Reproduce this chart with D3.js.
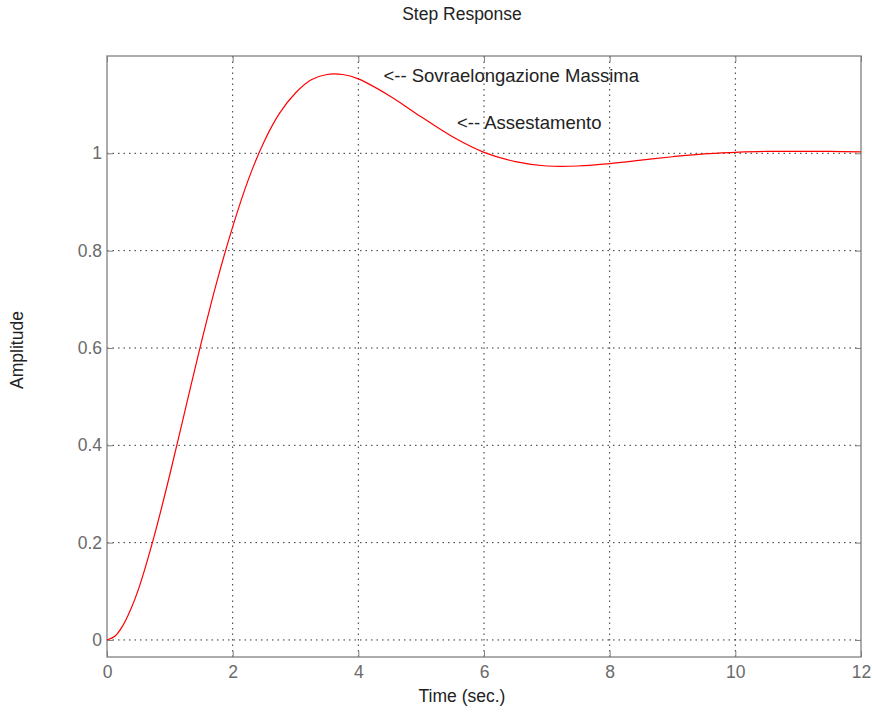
<!DOCTYPE html>
<html>
<head>
<meta charset="utf-8">
<script src="https://d3js.org/d3.v7.min.js"></script>
<style>
  html, body { margin: 0; padding: 0; background: #fff; }
  svg { display: block; font-family: "Liberation Sans", Arial, sans-serif; }
</style>
</head>
<body>
<svg id="chart" width="872" height="718"></svg>
<script>
// ---- data ----
const timeValues = [0, 0.125, 0.25, 0.375, 0.5, 0.75, 1, 1.25, 1.5, 1.75, 2, 2.25, 2.5, 2.75, 3, 3.25, 3.5, 3.75, 4, 4.5, 5, 5.5, 6, 6.5, 7, 7.5, 8, 8.5, 9, 9.5, 10, 10.5, 11, 11.5, 12];
const amplitudeValues = [0, 0.0075, 0.029, 0.062, 0.104, 0.213, 0.340, 0.476, 0.611, 0.737, 0.849, 0.946, 1.024, 1.083, 1.124, 1.151, 1.162, 1.162, 1.153, 1.118, 1.075, 1.034, 1.002, 0.983, 0.974, 0.974, 0.979, 0.986, 0.993, 0.999, 1.002, 1.004, 1.004, 1.004, 1.003];
const xTicks = [0, 2, 4, 6, 8, 10, 12];
const yTicks = [0, 0.2, 0.4, 0.6, 0.8, 1];
const yTickLabels = ["0", "0.2", "0.4", "0.6", "0.8", "1"];
const annotations = [
  { x: 4.4, y: 1.16, text: "<-- Sovraelongazione Massima" },
  { x: 5.57, y: 1.064, text: "<-- Assestamento" }
];
const titleText = "Step Response";
const xLabelText = "Time (sec.)";
const yLabelText = "Amplitude";

// ---- layout ----
const W = 872, H = 718;
const margin = { left: 107, right: 11, top: 56, bottom: 61 };
const svg = d3.select("#chart");
const x = d3.scaleLinear().domain([0, 12]).range([margin.left, W - margin.right]);
const y = d3.scaleLinear().domain([-0.035, 1.2]).range([H - margin.bottom, margin.top]);

const axisColor = "#808080";
const tickLabelColor = "#6a6a6a";
const labelCenterX = 462;

// grid
const grid = svg.append("g");
grid.selectAll("line.vg").data(xTicks.slice(1, -1)).join("line")
  .attr("x1", d => x(d)).attr("x2", d => x(d))
  .attr("y1", y.range()[0]).attr("y2", y.range()[1])
  .attr("stroke", "#333").attr("stroke-width", 1).attr("stroke-dasharray", "1.5,4");
grid.selectAll("line.hg").data(yTicks).join("line")
  .attr("x1", x.range()[0]).attr("x2", x.range()[1])
  .attr("y1", d => y(d)).attr("y2", d => y(d))
  .attr("stroke", "#333").attr("stroke-width", 1).attr("stroke-dasharray", "1.5,4");

// axes (ticks inward)
const bottomAxis = d3.axisBottom(x).tickValues(xTicks).tickSizeInner(-6).tickSizeOuter(0).tickPadding(9);
const topAxis = d3.axisTop(x).tickValues(xTicks).tickSizeInner(-6).tickSizeOuter(0).tickFormat("");
const leftAxis = d3.axisLeft(y).tickValues(yTicks).tickSizeInner(-6).tickSizeOuter(0).tickPadding(5)
  .tickFormat((d, i) => yTickLabels[i]);
const rightAxis = d3.axisRight(y).tickValues(yTicks).tickSizeInner(-6).tickSizeOuter(0).tickFormat("");

function styleAxis(g) {
  g.select(".domain").remove();
  g.selectAll(".tick line").attr("stroke", axisColor);
  g.selectAll(".tick text").attr("fill", tickLabelColor).attr("font-size", 17.5)
    .attr("font-family", "Liberation Sans, Arial, sans-serif");
}
svg.append("g").attr("transform", `translate(0,${y.range()[0]})`).call(bottomAxis).call(styleAxis);
svg.append("g").attr("transform", `translate(0,${y.range()[1]})`).call(topAxis).call(styleAxis);
svg.append("g").attr("transform", `translate(${x.range()[0]},0)`).call(leftAxis).call(styleAxis);
svg.append("g").attr("transform", `translate(${x.range()[1]},0)`).call(rightAxis).call(styleAxis);

// box
svg.append("rect")
  .attr("x", x.range()[0]).attr("y", y.range()[1])
  .attr("width", x.range()[1] - x.range()[0]).attr("height", y.range()[0] - y.range()[1])
  .attr("fill", "none").attr("stroke", axisColor).attr("stroke-width", 1.3);

// curve
const pts = timeValues.map((t, i) => [t, amplitudeValues[i]]);
svg.append("path").datum(pts)
  .attr("d", d3.line().x(d => x(d[0])).y(d => y(d[1])).curve(d3.curveCatmullRom.alpha(0.5)))
  .attr("fill", "none").attr("stroke", "#ff0000").attr("stroke-width", 1.2);

// annotations
svg.selectAll("text.ann").data(annotations).join("text")
  .attr("x", d => x(d.x)).attr("y", d => y(d.y))
  .attr("dy", "0.35em")
  .attr("font-size", 18.5).attr("fill", "#222")
  .text(d => d.text);

// title & labels
svg.append("text").attr("x", labelCenterX).attr("y", 20)
  .attr("text-anchor", "middle").attr("font-size", 17.5).attr("fill", "#222").text(titleText);
svg.append("text").attr("x", labelCenterX).attr("y", 702)
  .attr("text-anchor", "middle").attr("font-size", 17.5).attr("fill", "#222").text(xLabelText);
svg.append("text").attr("transform", `translate(23,350) rotate(-90)`)
  .attr("text-anchor", "middle").attr("font-size", 17.5).attr("fill", "#222").text(yLabelText);
</script>
</body>
</html>
